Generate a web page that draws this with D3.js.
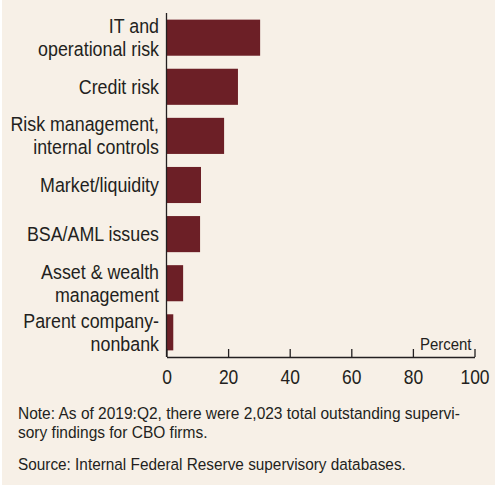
<!DOCTYPE html>
<html>
<head>
<meta charset="utf-8">
<script src="https://cdn.jsdelivr.net/npm/d3@7"></script>
<style>
  body { margin: 0; background: #fff; }
  svg text { font-family: "Liberation Sans Narrow", "Arial Narrow", "Liberation Sans", Arial, sans-serif; fill: #231f20; }
</style>
</head>
<body>
<div id="chart"></div>
<script>
const categories = [
    ["IT and", "operational risk"],
    ["Credit risk"],
    ["Risk management,", "internal controls"],
    ["Market/liquidity"],
    ["BSA/AML issues"],
    ["Asset & wealth", "management"],
    ["Parent company-", "nonbank"]
];
const values = [30.4, 23.2, 18.7, 11.2, 10.9, 5.4, 2.2];
const xTicks = [0, 20, 40, 60, 80, 100];
const noteLines = [
    "Note: As of 2019:Q2, there were 2,023 total outstanding supervi-",
    "sory findings for CBO firms."
];
const sourceLine = "Source: Internal Federal Reserve supervisory databases.";

const W = 495, H = 487;
const plot = { left: 166.5, right: 474.5, top: 13, bottom: 357 };
const ink = "#231f20";

const svg = d3.select("#chart")
    .append("svg")
    .attr("width", W)
    .attr("height", H);

svg.append("rect")
    .attr("x", 2).attr("y", 0)
    .attr("width", W - 2).attr("height", 485)
    .attr("fill", "#f7f0e7");

// condensed text: anchor at (tx, ty), squeeze horizontally
function addText(tx, ty, str, size, sx, anchor) {
    return svg.append("text")
        .attr("transform", `translate(${tx},${ty}) scale(${sx},1)`)
        .attr("text-anchor", anchor || "start")
        .attr("font-size", size)
        .text(str);
}

const x = d3.scaleLinear().domain([0, 100]).range([plot.left, plot.right]);
const y = d3.scaleBand()
    .domain(d3.range(categories.length))
    .range([plot.top, plot.bottom])
    .paddingInner(0.265)
    .paddingOuter(0.135);

// bars
svg.selectAll("rect.bar")
    .data(values)
    .enter().append("rect")
    .attr("class", "bar")
    .attr("x", x(0))
    .attr("y", (d, i) => y(i))
    .attr("width", d => x(d) - x(0))
    .attr("height", y.bandwidth())
    .attr("fill", "#6c1f26");

// category labels
const lineH = 23;
categories.forEach((lines, i) => {
    const cy = y(i) + y.bandwidth() / 2;
    lines.forEach((ln, j) => {
        addText(159, cy + (j - (lines.length - 1) / 2) * lineH + 7, ln, 20.5, 0.87, "end");
    });
});

// axes
svg.append("line")
    .attr("x1", x(0)).attr("x2", x(0))
    .attr("y1", plot.top).attr("y2", plot.bottom)
    .attr("stroke", ink).attr("stroke-width", 1.3);

const xAxis = d3.axisBottom(x)
    .tickValues(xTicks)
    .tickSize(-8)
    .tickSizeOuter(0)
    .tickPadding(0);

const gx = svg.append("g")
    .attr("transform", `translate(0,${plot.bottom})`)
    .call(xAxis);
gx.select(".domain").attr("stroke", ink).attr("stroke-width", 1.3);
gx.selectAll(".tick line").attr("stroke", ink).attr("stroke-width", 1.3);
gx.selectAll(".tick text")
    .attr("font-size", 20.5)
    .attr("font-family", null)
    .attr("fill", ink)
    .attr("y", 0)
    .attr("dy", null)
    .attr("transform", "translate(0,27) scale(0.85,1)");

addText(x(100) - 3, 350, "Percent", 17, 0.88, "end");

// notes
noteLines.forEach((ln, i) => {
    addText(18, 419 + i * 19, ln, 16.5, 0.94);
});
addText(18, 470, sourceLine, 16.5, 0.93);
</script>
</body>
</html>
